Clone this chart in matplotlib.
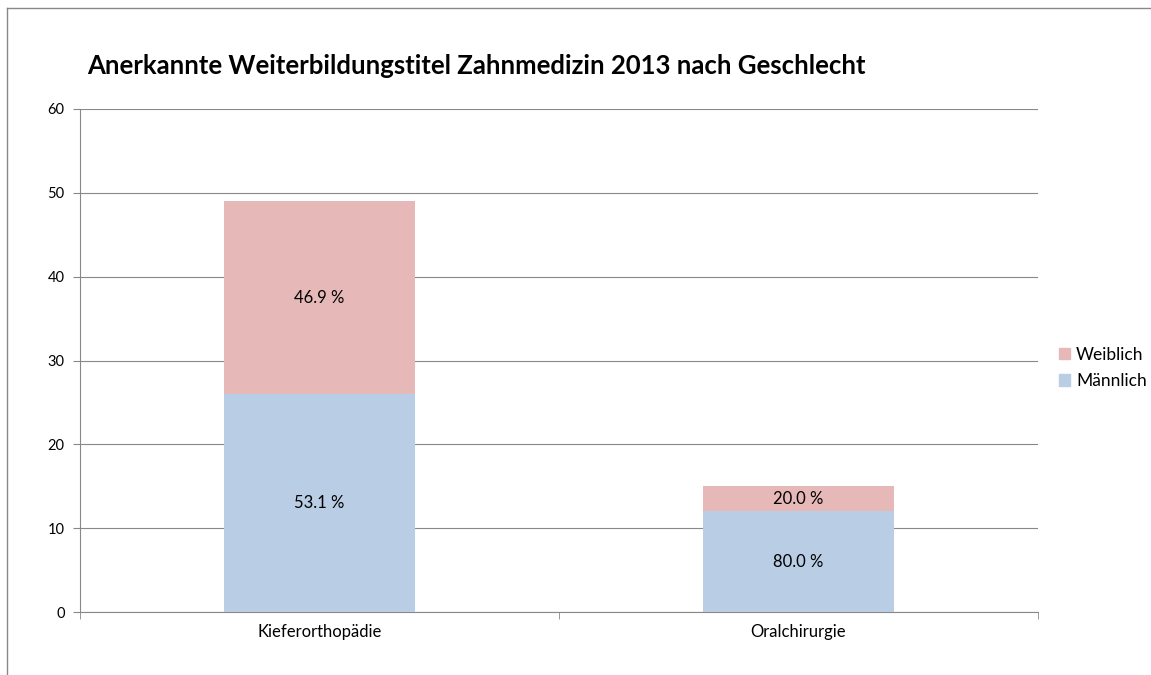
import matplotlib
matplotlib.use("Agg")
import matplotlib.pyplot as plt
from matplotlib.lines import Line2D
from matplotlib.patches import Patch

categories = ["Kieferorthopädie", "Oralchirurgie"]
maennlich = [26, 12]
weiblich = [23, 3]
yticks = [0, 10, 20, 30, 40, 50, 60]

plt.rcParams['font.family'] = ['Lato', 'DejaVu Sans']

fig = plt.figure(figsize=(11.51, 6.75), dpi=100)
ax = fig.add_axes([80/1151, 1-612/675, (1038-80)/1151, (612-109)/675])

blue = "#B9CDE5"
pink = "#E6B9B8"
x = list(range(len(categories)))
ax.bar(x, maennlich, width=0.4, color=blue, zorder=3, label="Männlich")
ax.bar(x, weiblich, width=0.4, bottom=maennlich, color=pink, zorder=3, label="Weiblich")

for i in x:
    tot = maennlich[i] + weiblich[i]
    ax.text(i, maennlich[i] / 2, f"{maennlich[i]/tot*100:.1f} %", ha="center", va="center", fontsize=12, zorder=4)
    ax.text(i, maennlich[i] + weiblich[i] / 2, f"{weiblich[i]/tot*100:.1f} %", ha="center", va="center", fontsize=12, zorder=4)

ax.set_xlim(-0.5, len(categories) - 0.5)
ax.set_ylim(0, 60)
ax.set_yticks(yticks)
ax.set_yticklabels([str(t) for t in yticks], fontsize=10.5)
ax.yaxis.grid(True, color="#888888", linewidth=0.8, zorder=0)
ax.set_xticks(x)
ax.set_xticklabels(categories, fontsize=12)
ax.tick_params(axis="x", length=0, pad=9)
ax.set_xticks([-0.5, 0.5, 1.5], minor=True)
ax.tick_params(axis="x", which="minor", length=5, color="#888888", direction="out")
ax.tick_params(axis="y", length=5, color="#888888", direction="out", pad=6)
for s in ["top", "right"]:
    ax.spines[s].set_visible(False)
for s in ["left", "bottom"]:
    ax.spines[s].set_color("#888888")
    ax.spines[s].set_linewidth(0.8)

fig.text(87/1151, 1-66/675, "Anerkannte Weiterbildungstitel Zahnmedizin 2013 nach Geschlecht",
         fontsize=18.5, fontweight="bold", va="center", ha="left")

handles = [Patch(color=pink), Patch(color=blue)]
fig.legend(handles, ["Weiblich", "Männlich"], loc="center left",
           bbox_to_anchor=(1043/1151, 1-368/675), frameon=False, fontsize=12.5,
           handlelength=0.65, handleheight=0.65, handletextpad=0.35, labelspacing=0.6)

# chart border (top and left visible)
fig.add_artist(Line2D([7/1151, 1], [1-8/675, 1-8/675], transform=fig.transFigure, color="#888888", lw=1))
fig.add_artist(Line2D([7/1151, 7/1151], [0, 1-8/675], transform=fig.transFigure, color="#888888", lw=1))

fig.savefig("out.png", dpi=100)
